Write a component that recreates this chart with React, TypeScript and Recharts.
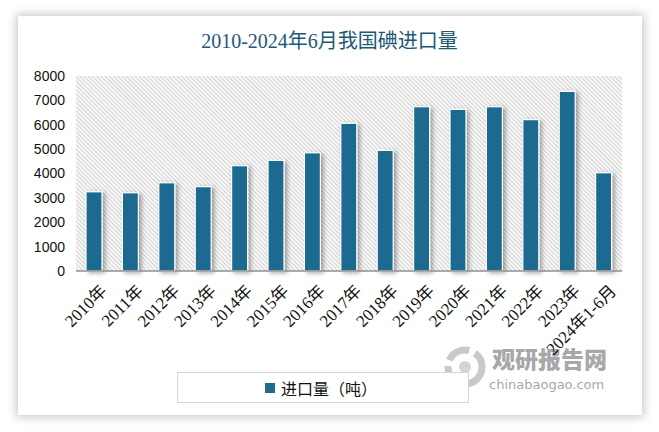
import React from "react";
import { BarChart, Bar, XAxis, YAxis, CartesianGrid, Legend } from "recharts";

const years = [
  "2010年", "2011年", "2012年", "2013年", "2014年", "2015年", "2016年", "2017年",
  "2018年", "2019年", "2020年", "2021年", "2022年", "2023年", "2024年1-6月",
];
const imports = [3250, 3210, 3620, 3460, 4320, 4540, 4850, 6060, 4950, 6740, 6630, 6740, 6210, 7370, 4030];
const yTicks = [0, 1000, 2000, 3000, 4000, 5000, 6000, 7000, 8000];

const data = years.map((year, i) => ({ year, value: imports[i] }));

const BAR = "#1e6b8f";
const SERIF = '"Liberation Serif", "Noto Sans CJK SC", serif';
const SANS = '"Liberation Sans", Arial, sans-serif';

function YearTick({ x, y, payload }: any) {
  return (
    <g transform={`translate(${x - 2},${y + 3})`}>
      <text
        x={4}
        y={4}
        dy={14}
        textAnchor="end"
        transform="rotate(-45)"
        fontSize={17}
        fontFamily={SERIF}
        fill="#111"
      >
        {payload.value}
      </text>
    </g>
  );
}

function ShadowBar({ x, y, width, height }: any) {
  if (!height || height <= 0) return null;
  return (
    <rect
      x={x}
      y={y}
      width={width}
      height={height}
      fill={BAR}
      stroke="#fff"
      strokeWidth={1.2}
      filter="url(#barShadow)"
    />
  );
}

function LegendBox() {
  return (
    <div
      style={{
        width: 290,
        height: 29,
        border: "1px solid #d6d6d6",
        display: "flex",
        alignItems: "center",
        justifyContent: "center",
        fontFamily: '"Noto Sans CJK SC", sans-serif',
        fontSize: 16,
        color: "#111",
        background: "#fff",
        whiteSpace: "nowrap",
      }}
    >
      <span style={{ width: 10, height: 10, background: BAR, marginRight: 6, marginLeft: -4 }} />
      进口量（吨）
    </div>
  );
}

export default function App() {
  return (
    <div style={{ position: "absolute", left: 0, top: 0, width: 659, height: 432, background: "#fff" }}>
      <div
        style={{
          position: "absolute",
          left: 18,
          top: 16,
          width: 624,
          height: 399,
          background: "#fff",
          boxShadow: "0 0 9px 2px rgba(0,0,0,0.22)",
        }}
      />
      <div
        style={{
          position: "absolute",
          left: 0,
          top: 25,
          width: 659,
          textAlign: "center",
          fontFamily: SERIF,
          fontSize: 20,
          color: "#1d5877",
        }}
      >
        2010-2024年6月我国碘进口量
      </div>
      <div style={{ position: "absolute", left: 442, top: 342, width: 180, height: 54, whiteSpace: "nowrap" }}>
        <svg width={46} height={50} style={{ position: "absolute", left: 0, top: 0 }}>
          <circle cx={23} cy={25} r={17} fill="none" stroke="#c9c9c9" strokeWidth={7} strokeDasharray="24 6" />
          <circle cx={23} cy={25} r={6} fill="#d4d4d4" />
        </svg>
        <div
          style={{
            position: "absolute",
            left: 50,
            top: 0,
            fontFamily: '"Noto Sans CJK SC", sans-serif',
            fontWeight: 900,
            fontSize: 23,
            color: "#a8a8a8",
            lineHeight: "32px",
          }}
        >
          观研报告网
        </div>
        <div
          style={{
            position: "absolute",
            left: 47,
            top: 35,
            fontFamily: '"DejaVu Sans", sans-serif',
            fontSize: 13,
            color: "#a8a8a8",
            lineHeight: "16px",
          }}
        >
          chinabaogao.com
        </div>
      </div>
      <div style={{ position: "absolute", left: 0, top: 0 }}>
        <BarChart
          width={659}
          height={432}
          data={data}
          margin={{ top: 76, right: 37, left: 26, bottom: 81 }}
        >
          <defs>
            <pattern id="hatch" patternUnits="userSpaceOnUse" width={3} height={3} patternTransform="rotate(45)">
              <rect x={0} y={0} width={3} height={3} fill="#fbfbfb" />
              <rect x={0} y={0} width={3} height={1.1} fill="#d2d2d2" />
            </pattern>
            <filter id="barShadow" x="-40%" y="-10%" width="200%" height="130%">
              <feDropShadow dx={2.5} dy={1.5} stdDeviation={2} floodColor="#000" floodOpacity={0.35} />
            </filter>
          </defs>
          <CartesianGrid horizontal={false} vertical={false} fill="url(#hatch)" />
          <XAxis
            dataKey="year"
            interval={0}
            height={80}
            tickLine={false}
            axisLine={{ stroke: "#8f8f8f", strokeWidth: 1.5 }}
            tick={<YearTick />}
          />
          <YAxis
            width={50}
            domain={[0, 8000]}
            ticks={yTicks}
            tickLine={false}
            axisLine={false}
            tickMargin={5}
            tick={{ fontSize: 14, fontFamily: SANS, fill: "#111" }}
          />
          <Legend
            verticalAlign="middle"
            align="center"
            wrapperStyle={{ left: 177, top: 372, width: 292, height: 31 }}
            content={() => <LegendBox />}
          />
          <Bar
            dataKey="value"
            name="进口量（吨）"
            barSize={16}
            shape={<ShadowBar />}
            isAnimationActive={false}
          />
        </BarChart>
      </div>
    </div>
  );
}
